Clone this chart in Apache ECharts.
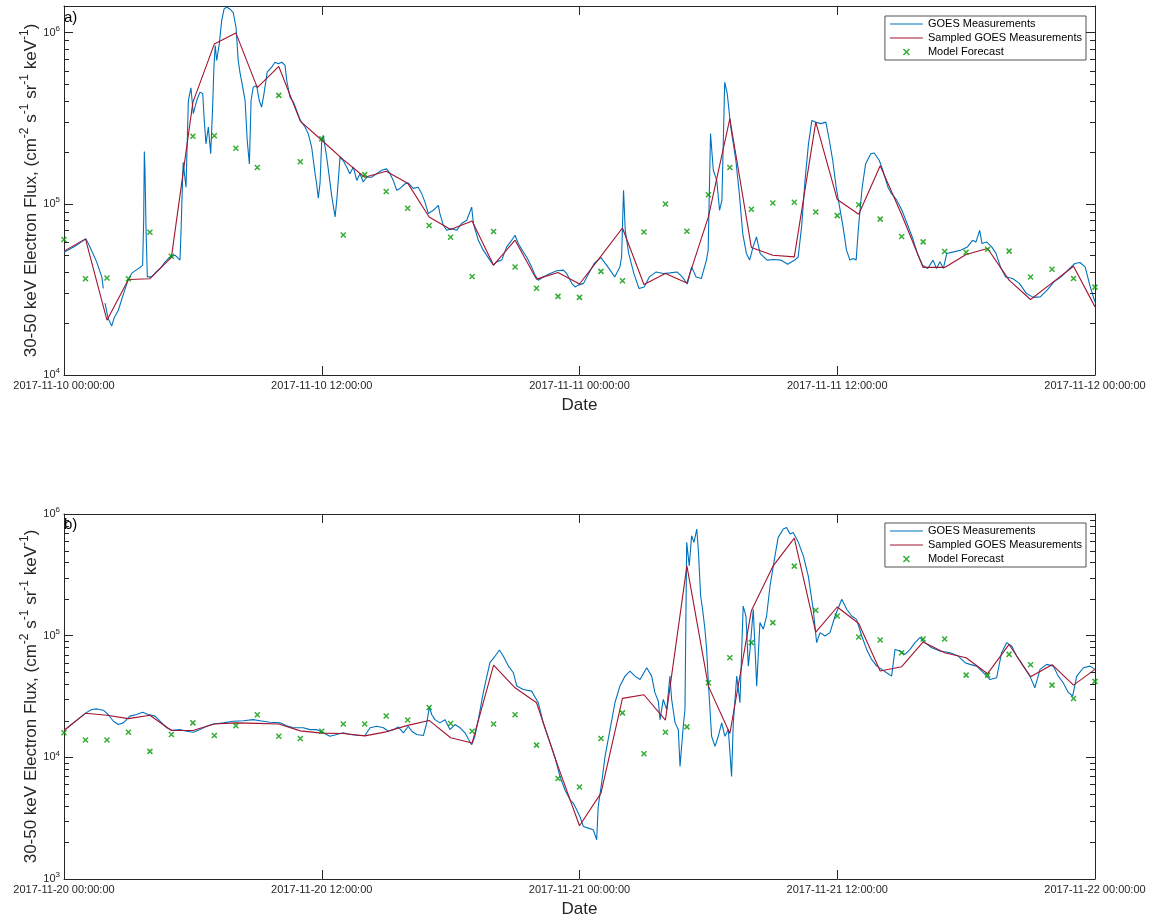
<!DOCTYPE html>
<html><head><meta charset="utf-8">
<script src="https://cdn.jsdelivr.net/npm/echarts@6/dist/echarts.min.js"></script>
<style>html,body{margin:0;padding:0;background:#fff}#c{width:1158px;height:921px}</style>
</head><body><div id="c"></div><script>
// ---------- DATA ----------
const xTickLabelsA = ['2017-11-10 00:00:00','2017-11-10 12:00:00','2017-11-11 00:00:00','2017-11-11 12:00:00','2017-11-12 00:00:00'];
const xTickLabelsB = ['2017-11-20 00:00:00','2017-11-20 12:00:00','2017-11-21 00:00:00','2017-11-21 12:00:00','2017-11-22 00:00:00'];
const seriesNames = ['GOES Measurements','Sampled GOES Measurements','Model Forecast'];

// panel a: GOES measurements (hours since start, flux)
const goesTimeA = [0,0.51,1.02,1.21,1.52,1.76,1.83,1.87,1.91,2.05,2.22,2.33,2.53,2.75,2.99,3.15,3.35,3.54,3.66,3.71,3.74,3.77,3.82,3.88,4.08,4.28,4.47,4.70,4.93,5.17,5.40,5.45,5.52,5.55,5.68,5.79,5.91,6.02,6.18,6.33,6.46,6.52,6.61,6.72,6.83,6.92,6.98,7.04,7.11,7.23,7.34,7.45,7.57,7.73,7.88,8.01,8.11,8.19,8.32,8.43,8.53,8.63,8.71,8.81,8.97,9.09,9.20,9.31,9.46,9.67,9.82,9.98,10.14,10.29,10.37,10.52,10.68,10.83,11.02,11.22,11.37,11.53,11.69,11.76,11.84,11.92,12.0,12.07,12.23,12.34,12.46,12.62,12.70,12.77,12.85,13.0,13.16,13.31,13.47,13.63,13.78,13.93,14.09,14.32,14.56,14.79,15.02,15.18,15.33,15.49,15.64,15.88,16.03,16.26,16.49,16.65,16.81,16.96,17.19,17.43,17.50,17.66,17.82,18.05,18.28,18.51,18.75,18.87,18.98,19.06,19.29,19.52,19.83,19.99,20.14,20.38,20.61,20.84,21.0,21.15,21.38,21.54,21.77,21.93,22.08,22.31,22.63,22.94,23.25,23.40,23.64,23.79,23.94,24.19,24.43,24.68,25.0,25.32,25.64,25.88,25.96,26.05,26.13,26.29,26.53,26.77,27.01,27.25,27.57,27.9,28.22,28.54,28.78,29.02,29.22,29.43,29.67,29.91,29.99,30.1,30.23,30.39,30.52,30.63,30.76,30.88,31.04,31.28,31.44,31.6,31.77,31.92,32.08,32.24,32.41,32.73,33.05,33.37,33.69,34.02,34.18,34.34,34.5,34.66,34.82,34.98,35.22,35.47,35.63,35.79,35.95,36.11,36.27,36.43,36.59,36.75,36.88,36.99,37.16,37.32,37.56,37.72,37.96,38.12,38.36,38.52,38.77,39.01,39.25,39.49,39.73,39.97,40.21,40.46,40.62,40.78,40.94,41.1,41.42,41.74,42.06,42.3,42.46,42.63,42.74,42.95,43.19,43.39,43.6,43.84,44.16,44.48,44.81,45.13,45.45,45.77,46.09,46.42,46.74,47.06,47.3,47.54,47.78,48.0];
const goesFluxA = [5.21e4,5.65e4,6.24e4,5.60e4,4.58e4,3.74e4,3.20e4,null,2.63e4,2.15e4,1.93e4,2.15e4,2.39e4,2.93e4,3.61e4,3.92e4,4.10e4,4.25e4,4.38e4,8.01e4,2.02e5,1.57e5,7.00e4,3.74e4,3.74e4,3.99e4,4.19e4,4.56e4,4.89e4,5.01e4,4.69e4,7.0e4,1.37e5,1.75e5,1.25e5,4.01e5,4.76e5,3.36e5,4.01e5,4.49e5,4.39e5,3.21e5,2.24e5,2.81e5,1.96e5,3.67e5,6.28e5,8.40e5,6.87e5,8.59e5,1.17e6,1.37e6,1.41e6,1.37e6,1.31e6,1.07e6,6.87e5,5.87e5,4.80e5,4.01e5,2.35e5,1.71e5,4.01e5,4.80e5,4.91e5,4.01e5,3.67e5,4.39e5,5.87e5,6.28e5,6.71e5,6.57e5,6.71e5,6.43e5,5.25e5,4.20e5,3.93e5,3.51e5,3.04e5,2.81e5,2.57e5,2.14e5,1.50e5,1.31e5,1.08e5,1.32e5,2.35e5,2.51e5,1.87e5,1.47e5,1.12e5,8.38e4,1.05e5,1.37e5,1.87e5,1.79e5,1.64e5,1.50e5,1.64e5,1.37e5,1.50e5,1.34e5,1.43e5,1.43e5,1.50e5,1.57e5,1.60e5,1.50e5,1.37e5,1.20e5,1.23e5,1.31e5,1.32e5,1.23e5,1.25e5,1.15e5,1.02e5,8.77e4,9.16e4,9.80e4,8.77e4,7.50e4,7.00e4,7.16e4,7.00e4,7.67e4,8.01e4,8.77e4,9.57e4,7.67e4,6.12e4,5.36e4,4.69e4,4.38e4,4.58e4,4.69e4,5.60e4,6.12e4,6.55e4,5.86e4,5.24e4,4.89e4,4.28e4,3.83e4,3.58e4,3.74e4,3.92e4,4.06e4,4.10e4,3.92e4,3.43e4,3.27e4,3.35e4,3.43e4,3.92e4,4.48e4,4.85e4,4.28e4,3.74e4,4.28e4,4.89e4,1.20e5,7.00e4,5.13e4,3.92e4,3.20e4,3.27e4,3.74e4,4.00e4,3.92e4,3.95e4,4.00e4,3.74e4,3.40e4,4.28e4,3.74e4,3.66e4,4.69e4,5.36e4,2.57e5,1.57e5,1.37e5,9.16e4,1.05e5,5.13e5,4.39e5,2.81e5,1.79e5,1.15e5,6.70e4,5.13e4,4.69e4,5.60e4,6.40e4,5.13e4,4.69e4,4.73e4,4.69e4,4.44e4,4.69e4,4.89e4,7.33e4,1.37e5,2.24e5,3.07e5,3.00e5,2.94e5,3.00e5,2.35e5,1.79e5,1.25e5,9.57e4,7.33e4,5.36e4,4.69e4,4.79e4,4.69e4,7.33e4,1.25e5,1.71e5,1.96e5,1.98e5,1.79e5,1.57e5,1.25e5,1.15e5,1.05e5,9.16e4,7.67e4,6.40e4,5.13e4,4.38e4,4.19e4,4.69e4,4.19e4,4.58e4,4.19e4,5.13e4,5.24e4,5.36e4,5.60e4,6.12e4,5.99e4,7.00e4,5.86e4,5.99e4,5.60e4,5.13e4,4.28e4,3.74e4,3.66e4,3.43e4,2.99e4,2.84e4,2.86e4,3.13e4,3.50e4,3.74e4,4.10e4,4.48e4,4.54e4,4.28e4,3.27e4,2.67e4];
// panel a: hourly sampled measurements and model forecast (hour 0..48)
const sampledA = [5.29e4,6.24e4,2.09e4,3.61e4,3.65e4,4.86e4,3.91e5,8.59e5,9.96e5,4.77e5,6.34e5,3.04e5,2.35e5,1.81e5,1.43e5,1.55e5,1.32e5,8.37e4,7.07e4,7.94e4,4.38e4,6.13e4,3.63e4,3.97e4,3.40e4,4.95e4,7.22e4,3.38e4,3.92e4,3.45e4,8.38e4,3.14e5,5.56e4,5.01e4,4.90e4,3.00e5,1.06e5,8.69e4,1.67e5,8.63e4,4.25e4,4.25e4,5.06e4,5.48e4,3.58e4,2.76e4,3.45e4,4.32e4,2.50e4];
const forecastA = [6.18e4,3.65e4,3.69e4,3.65e4,6.82e4,4.94e4,2.48e5,2.50e5,2.11e5,1.63e5,4.30e5,1.76e5,2.40e5,6.58e4,1.48e5,1.18e5,9.42e4,7.46e4,6.38e4,3.76e4,6.89e4,4.27e4,3.21e4,2.88e4,2.84e4,4.03e4,3.55e4,6.85e4,9.97e4,6.92e4,1.13e5,1.63e5,9.29e4,1.01e5,1.02e5,8.96e4,8.53e4,9.88e4,8.14e4,6.44e4,5.99e4,5.26e4,5.21e4,5.43e4,5.29e4,3.74e4,4.15e4,3.66e4,3.26e4];

// panel b
const goesTimeB = [0,0.43,1.02,1.29,1.52,1.83,2.06,2.30,2.53,2.76,3.07,3.38,3.66,3.92,4.24,4.47,4.78,5.03,5.40,5.71,6.02,6.33,6.64,6.95,7.42,7.88,8.35,8.81,9.12,9.59,10.06,10.37,10.68,11.14,11.45,11.76,12.07,12.38,12.70,13.0,13.31,13.78,14.01,14.25,14.56,14.87,15.10,15.33,15.56,15.80,16.03,16.19,16.42,16.73,16.89,17.01,17.12,17.27,17.50,17.74,17.97,18.20,18.44,18.67,18.82,18.98,19.13,19.29,19.52,19.83,20.07,20.27,20.45,20.69,20.92,21.08,21.38,21.77,22.08,22.31,22.63,22.86,23.09,23.32,23.56,23.71,23.87,24.02,24.18,24.41,24.64,24.80,24.87,25.03,25.19,25.42,25.65,25.88,26.12,26.35,26.58,26.82,27.13,27.36,27.51,27.67,27.75,27.90,28.06,28.21,28.29,28.45,28.60,28.68,28.83,28.91,28.99,29.11,29.22,29.33,29.46,29.53,29.64,29.73,29.84,29.92,30.0,30.15,30.31,30.46,30.62,30.77,30.93,31.08,31.16,31.32,31.47,31.62,31.75,31.86,31.94,32.09,32.25,32.40,32.56,32.71,32.87,33.10,33.25,33.49,33.64,33.80,33.95,34.19,34.42,34.65,34.88,35.04,35.20,35.43,35.66,35.90,36.21,36.44,36.67,36.90,37.14,37.37,37.60,37.84,38.07,38.30,38.53,38.69,38.92,39.15,39.39,39.62,39.85,40.08,40.40,40.78,41.25,41.63,41.95,42.18,42.49,42.80,43.11,43.42,43.65,43.89,44.12,44.35,44.66,44.97,45.20,45.44,45.75,46.06,46.29,46.52,46.76,46.96,47.15,47.46,47.77,48.0];
const goesFluxB = [1.66e4,1.92e4,2.32e4,2.47e4,2.50e4,2.44e4,2.25e4,1.98e4,1.86e4,1.92e4,2.18e4,2.25e4,2.35e4,2.25e4,2.18e4,1.98e4,1.75e4,1.67e4,1.69e4,1.64e4,1.61e4,1.69e4,1.80e4,1.88e4,1.92e4,1.98e4,2.00e4,2.04e4,2.00e4,1.94e4,1.92e4,1.82e4,1.75e4,1.75e4,1.69e4,1.69e4,1.59e4,1.49e4,1.54e4,1.59e4,1.54e4,1.51e4,1.51e4,1.75e4,1.80e4,1.75e4,1.64e4,1.69e4,1.78e4,1.59e4,1.80e4,1.64e4,1.54e4,1.51e4,1.92e4,2.60e4,2.25e4,2.04e4,1.92e4,2.04e4,1.69e4,1.86e4,1.75e4,1.59e4,1.42e4,1.27e4,1.49e4,2.04e4,3.40e4,6.00e4,6.80e4,7.62e4,6.80e4,5.62e4,4.96e4,3.85e4,3.61e4,3.50e4,2.81e4,1.92e4,1.31e4,9.88e3,6.97e3,5.42e3,4.48e3,4.21e3,3.71e3,3.26e3,2.70e3,2.62e3,2.54e3,2.10e3,3.94e3,6.15e3,1.02e4,1.69e4,2.81e4,3.85e4,4.65e4,5.11e4,4.65e4,4.36e4,5.45e4,4.65e4,3.40e4,2.89e4,2.04e4,2.99e4,2.47e4,4.65e4,2.99e4,1.92e4,1.69e4,8.43e3,1.80e4,2.47e4,5.85e5,3.75e5,6.62e5,5.85e5,7.52e5,5.15e5,2.12e5,1.65e5,1.13e5,7.71e4,4.10e4,1.49e4,1.23e4,1.49e4,1.92e4,1.49e4,1.69e4,6.97e3,1.92e4,4.65e4,2.81e4,1.75e5,1.45e5,5.62e4,7.71e4,1.65e5,3.85e4,1.28e5,1.13e5,1.45e5,2.56e5,4.53e5,6.43e5,7.52e5,7.76e5,6.84e5,7.06e5,5.85e5,4.53e5,3.10e5,1.65e5,8.77e4,1.06e5,9.94e4,1.06e5,1.45e5,1.99e5,1.65e5,1.45e5,1.36e5,9.94e4,7.71e4,6.38e4,5.62e4,5.28e4,4.96e4,4.65e4,7.71e4,7.47e4,7.02e4,7.71e4,8.77e4,9.63e4,8.77e4,7.96e4,7.47e4,7.24e4,6.80e4,6.00e4,5.81e4,5.62e4,4.96e4,4.36e4,4.51e4,7.24e4,8.77e4,8.22e4,6.80e4,5.62e4,4.65e4,3.73e4,5.28e4,5.81e4,5.62e4,4.65e4,4.10e4,3.40e4,3.19e4,4.65e4,5.45e4,5.62e4,5.28e4];
const sampledB = [1.66e4,2.30e4,2.22e4,2.08e4,2.22e4,1.66e4,1.66e4,1.88e4,1.92e4,1.90e4,1.88e4,1.65e4,1.58e4,1.57e4,1.50e4,1.62e4,1.83e4,2.01e4,1.45e4,1.31e4,5.73e4,3.73e4,2.81e4,8.43e3,2.74e3,5.08e3,3.05e4,3.27e4,2.02e4,3.75e5,3.85e4,1.57e4,1.60e5,3.71e5,6.34e5,1.07e5,1.72e5,1.26e5,5.12e4,5.56e4,8.88e4,7.24e4,6.59e4,4.87e4,8.47e4,4.59e4,5.77e4,3.92e4,5.28e4];
const forecastB = [1.59e4,1.39e4,1.39e4,1.61e4,1.12e4,1.54e4,1.92e4,1.51e4,1.82e4,2.24e4,1.49e4,1.43e4,1.64e4,1.88e4,1.88e4,2.19e4,2.03e4,2.57e4,1.90e4,1.64e4,1.88e4,2.24e4,1.26e4,6.71e3,5.70e3,1.43e4,2.32e4,1.07e4,1.61e4,1.78e4,4.10e4,6.59e4,8.77e4,1.28e5,3.73e5,1.62e5,1.45e5,9.75e4,9.21e4,7.24e4,9.38e4,9.38e4,4.74e4,4.74e4,7.02e4,5.77e4,3.92e4,3.05e4,4.21e4];

// axis ranges and minor tick values
const yRangeA = [1e4, 1.43e6];
const yRangeB = [1e3, 1e6];
const minorTicksA = [2e4,3e4,4e4,5e4,6e4,7e4,8e4,9e4,2e5,3e5,4e5,5e5,6e5,7e5,8e5,9e5];
const minorTicksB = [2e3,3e3,4e3,5e3,6e3,7e3,8e3,9e3,2e4,3e4,4e4,5e4,6e4,7e4,8e4,9e4,2e5,3e5,4e5,5e5,6e5,7e5,8e5,9e5];

// ---------- CHART ----------
const FONT = '"Liberation Sans", Arial, Helvetica, sans-serif';
const AX = '#262626';
const BLUE = '#0072BD', RED = '#A2142F', GREEN = '#009900';
const CROSS = 'path://M0,0L10,10M0,10L10,0';
const LINEICON = 'path://M0,0L40,0L40,1.2L0,1.2Z';

function xAxesFor(g, labels) {
  const common = {type: 'value', gridIndex: g, min: 0, max: 48, interval: 12,
    axisLine: {show: true, onZero: false, lineStyle: {color: AX, width: 1}},
    axisTick: {show: true, inside: true, length: 9, lineStyle: {color: AX}},
    splitLine: {show: false}};
  return [
    Object.assign({}, common, {position: 'bottom',
      axisLabel: {show: true, fontSize: 11, color: AX, fontFamily: FONT, margin: 5,
        formatter: v => labels[Math.round(v / 12)]},
      name: 'Date', nameLocation: 'middle', nameGap: 22, nameMoveOverlap: false,
      nameTextStyle: {fontSize: 17, color: AX, fontFamily: FONT}}),
    Object.assign({}, common, {position: 'top', axisLabel: {show: false}})
  ];
}
function yAxesFor(g, range, hideMax) {
  const common = {type: 'log', logBase: 10, gridIndex: g, min: range[0], max: range[1],
    axisLine: {show: true, onZero: false, lineStyle: {color: AX, width: 1}},
    axisTick: {show: true, inside: true, length: 9, lineStyle: {color: AX}},
    splitLine: {show: false}};
  return [
    Object.assign({}, common, {position: 'left',
      axisLabel: {show: true, margin: 4, showMaxLabel: !hideMax, showMinLabel: true,
        formatter: v => '{b|10}{s|' + Math.round(Math.log10(v)) + '}',
        rich: {b: {fontSize: 11, color: AX, fontFamily: FONT, lineHeight: 16},
               s: {fontSize: 8, color: AX, fontFamily: FONT, lineHeight: 8, verticalAlign: 'top'}}},
      name: '30-50 keV Electron Flux, (cm{s|-2} s{s|-1} sr{s|-1} keV{s|-1})',
      nameLocation: 'middle', nameGap: 21, nameMoveOverlap: false,
      nameTextStyle: {fontSize: 17, color: AX, fontFamily: FONT, lineHeight: 24,
        rich: {s: {fontSize: 12, color: AX, fontFamily: FONT, lineHeight: 12, verticalAlign: 'top'}}}}),
    Object.assign({}, common, {position: 'right', axisLabel: {show: false}})
  ];
}
function seriesFor(xi, yi, tArr, fArr, samp, fc, minors) {
  return [
    {name: seriesNames[0], type: 'line', xAxisIndex: xi, yAxisIndex: yi, symbol: 'none',
     data: tArr.map((t, i) => [t, fArr[i]]), color: BLUE,
     lineStyle: {color: BLUE, width: 1.1}, z: 2, connectNulls: false},
    {name: seriesNames[1], type: 'line', xAxisIndex: xi, yAxisIndex: yi, symbol: 'none',
     data: samp.map((v, i) => [i, v]), color: RED,
     lineStyle: {color: RED, width: 1.1}, z: 3},
    {name: seriesNames[2], type: 'scatter', xAxisIndex: xi, yAxisIndex: yi, symbol: CROSS, symbolSize: 5,
     data: fc.map((v, i) => [i, v]), color: GREEN,
     itemStyle: {color: GREEN, borderColor: GREEN, borderWidth: 1.5}, z: 4},
    {type: 'custom', xAxisIndex: xi, yAxisIndex: yi, silent: true, clip: false, z: 5,
     data: minors.map(v => [0, v]),
     renderItem: (params, api) => {
       const v = api.value(1);
       const a = api.coord([0, v]), b = api.coord([48, v]);
       const y1 = Math.round(a[1]) + 0.5, y2 = Math.round(b[1]) + 0.5;
       return {type: 'group', children: [
         {type: 'line', shape: {x1: a[0], y1: y1, x2: a[0] + 5, y2: y1}, style: {stroke: AX, lineWidth: 1}},
         {type: 'line', shape: {x1: b[0] - 5, y1: y2, x2: b[0], y2: y2}, style: {stroke: AX, lineWidth: 1}}
       ]};
     }}
  ];
}
function legendFor(top) {
  return {show: true, orient: 'vertical', right: 72, top: top,
    data: [{name: seriesNames[0], icon: LINEICON}, {name: seriesNames[1], icon: LINEICON},
           {name: seriesNames[2], itemStyle: {borderWidth: 1.5}}],
    itemWidth: 33, itemHeight: 6, itemGap: 0,
    padding: [1, 4, 1, 5], borderColor: AX, borderWidth: 0.8, backgroundColor: '#fff',
    selectedMode: false,
    textStyle: {fontSize: 11, color: '#000', fontFamily: FONT, lineHeight: 14}};
}

const chart = echarts.init(document.getElementById('c'), null, {renderer: 'canvas'});
chart.setOption({
  animation: false,
  backgroundColor: '#fff',
  textStyle: {fontFamily: FONT},
  grid: [
    {left: 64, right: 63, top: 6, height: 369, containLabel: false},
    {left: 64, right: 63, top: 514, height: 365, containLabel: false}
  ],
  xAxis: [].concat(xAxesFor(0, xTickLabelsA), xAxesFor(1, xTickLabelsB)),
  yAxis: [].concat(yAxesFor(0, yRangeA, true), yAxesFor(1, yRangeB, false)),
  legend: [legendFor(16), legendFor(523)],
  graphic: [
    {type: 'text', left: 64, top: 10, style: {text: 'a)', font: '15px ' + FONT, fill: '#000'}},
    {type: 'text', left: 64, top: 517, style: {text: 'b)', font: '15px ' + FONT, fill: '#000'}}
  ],
  series: [].concat(
    seriesFor(0, 0, goesTimeA, goesFluxA, sampledA, forecastA, minorTicksA),
    seriesFor(2, 2, goesTimeB, goesFluxB, sampledB, forecastB, minorTicksB))
});
</script></body></html>
